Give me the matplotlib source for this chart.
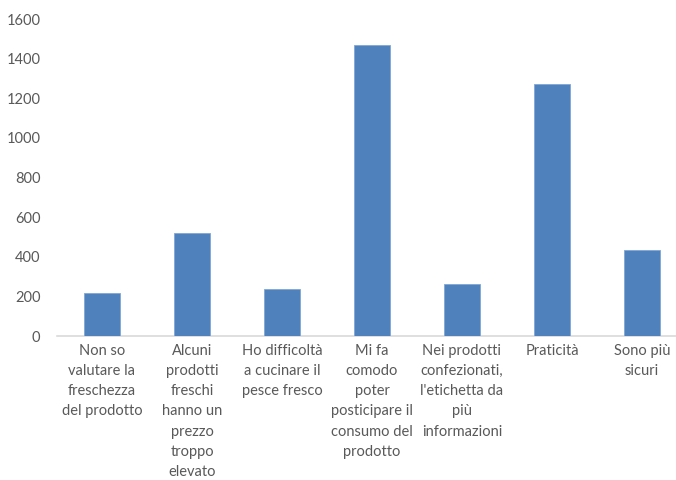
import matplotlib.pyplot as plt

# risposte (etichette già spezzate come nel grafico originale)
categorie = [
    'Non so\nvalutare la\nfreschezza\ndel prodotto',
    'Alcuni\nprodotti\nfreschi\nhanno un\nprezzo\ntroppo\nelevato',
    'Ho difficoltà\na cucinare il\npesce fresco',
    'Mi fa\ncomodo\npoter\nposticipare il\nconsumo del\nprodotto',
    'Nei prodotti\nconfezionati,\nl\'etichetta da\npiù\ninformazioni',
    'Praticità',
    'Sono più\nsicuri',
]
valori = [215, 518, 235, 1471, 260, 1274, 436]
y_ticks = [0, 200, 400, 600, 800, 1000, 1200, 1400, 1600]

plt.rcParams['font.family'] = ['Lato', 'DejaVu Sans']

fig = plt.figure(figsize=(6.76, 4.8), dpi=100)
# l'asse esce a destra come nello screenshot ritagliato
ax = fig.add_axes([57 / 676, 0.3, 630 / 676, 0.6604])

x = list(range(len(categorie)))
ax.bar(x, valori, width=0.4, color='#4F81BD', edgecolor='#7FA6D6', linewidth=0.6, zorder=3)

ax.set_xlim(-0.5, len(categorie) - 0.5)
ax.set_ylim(0, 1600)
ax.set_yticks(y_ticks)
ax.set_xticks(x)
ax.set_xticklabels(categorie, linespacing=1.55, va='top', ha='center')

for s in ['top', 'right', 'left']:
    ax.spines[s].set_visible(False)
ax.spines['bottom'].set_color('#D9D9D9')
ax.spines['bottom'].set_linewidth(1.2)
ax.tick_params(axis='both', length=0, labelsize=10.5, colors='#595959')
ax.tick_params(axis='y', pad=12)
ax.tick_params(axis='x', pad=6)

fig.savefig('out.png', dpi=100)
